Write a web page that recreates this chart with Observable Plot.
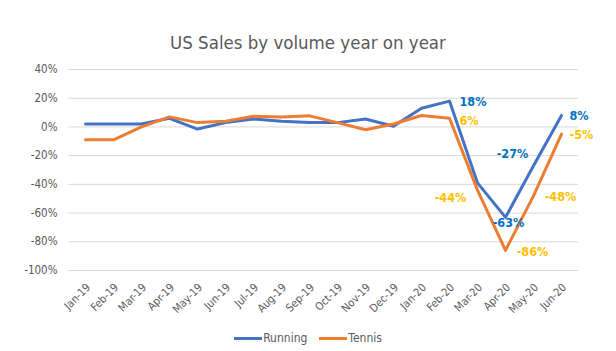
<!DOCTYPE html>
<html><head><meta charset="utf-8">
<script src="https://cdn.jsdelivr.net/npm/d3@7"></script>
<script src="https://cdn.jsdelivr.net/npm/@observablehq/plot@0.6"></script>
<style>
body{margin:0;background:#fff;font-family:"Liberation Sans Narrow","DejaVu Sans Condensed",sans-serif;}
#title{height:55px;line-height:86px;text-align:center;font-size:18.5px;color:#595959;font-family:"DejaVu Sans Condensed","Liberation Sans Narrow",sans-serif;}
#legend{height:26px;display:flex;justify-content:center;align-items:center;font-size:12px;color:#595959;gap:12px;}
.sw{display:inline-block;width:28px;height:3px;vertical-align:middle;margin-right:1px;}
</style></head><body>
<div id="title">US Sales by volume year on year</div>
<div id="chart"></div>
<div id="legend"><span><span class="sw" style="background:#4472C4"></span>Running</span><span><span class="sw" style="background:#ED7D31"></span>Tennis</span></div>
<script>
const months = ["Jan-19","Feb-19","Mar-19","Apr-19","May-19","Jun-19","Jul-19","Aug-19","Sep-19","Oct-19","Nov-19","Dec-19","Jan-20","Feb-20","Mar-20","Apr-20","May-20","Jun-20"];
const running = [2,2,2,6,-1.5,3,5.5,4,3,3,5.5,0.5,13,18,-39,-63,-27,8];
const tennis = [-9,-9,0,7,3,4,7.5,7,7.7,3,-2,2,8,6,-44,-86,-48,-5];
const yTicks = [40,20,0,-20,-40,-60,-80,-100];

const data = [];
months.forEach((m,i)=>{data.push({month:m,series:"Running",value:running[i]});data.push({month:m,series:"Tennis",value:tennis[i]});});
const get = (s,m)=>data.find(d=>d.series===s&&d.month===m);
const lab = (s,m,opts)=>Plot.text([get(s,m)],{x:"month",y:"value",text:d=>d.value+"%",
  fill:s==="Running"?"#0070C0":"#FFC000",fontWeight:"bold",fontSize:12.5,...opts});

const chart = Plot.plot({
  width:616,height:270,marginTop:14,marginBottom:55,marginLeft:68,marginRight:38,
  style:{fontFamily:'"Liberation Sans Narrow","DejaVu Sans Condensed",sans-serif',fontSize:"11px",color:"#595959",background:"#fff"},
  x:{type:"point",domain:months,padding:0.5,label:null},
  y:{domain:[-100,40],ticks:yTicks,tickFormat:d=>d+"%",label:null},
  marks:[
    Plot.gridY(yTicks,{stroke:"#d9d9d9",strokeOpacity:1}),
    Plot.axisY(yTicks,{tickSize:0,tickPadding:11,tickFormat:d=>d+"%",fontSize:11.5,fill:"#595959"}),
    Plot.axisX({tickSize:0,tickRotate:-45,tickPadding:15,dx:3,fontSize:11,fill:"#595959"}),
    Plot.line(data.filter(d=>d.series==="Running"),{x:"month",y:"value",stroke:"#4472C4",strokeWidth:3}),
    Plot.line(data.filter(d=>d.series==="Tennis"),{x:"month",y:"value",stroke:"#ED7D31",strokeWidth:3}),
    lab("Running","Feb-20",{textAnchor:"start",dx:10,dy:1}),
    lab("Running","Apr-20",{dx:3,dy:6}),
    lab("Running","May-20",{dx:-21,dy:-12}),
    lab("Running","Jun-20",{textAnchor:"start",dx:8,dy:1}),
    lab("Tennis","Feb-20",{textAnchor:"start",dx:10,dy:3}),
    lab("Tennis","Mar-20",{dx:-27,dy:8}),
    lab("Tennis","Apr-20",{dx:27,dy:2}),
    lab("Tennis","May-20",{dx:27,dy:1}),
    lab("Tennis","Jun-20",{textAnchor:"start",dx:8,dy:1})
  ]
});
document.getElementById("chart").appendChild(chart);
</script></body></html>
